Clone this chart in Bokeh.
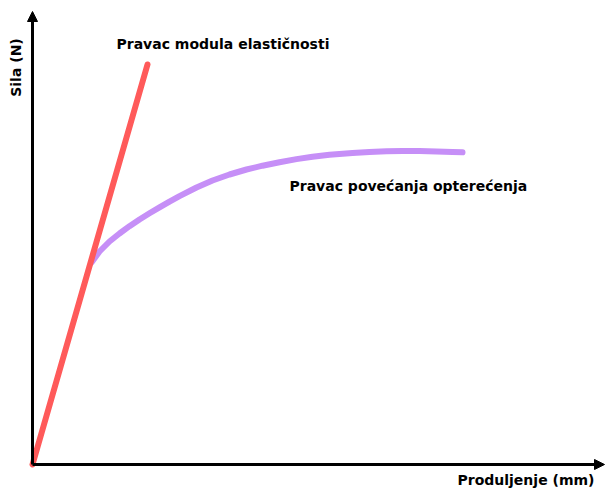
import math
from bokeh.plotting import figure
from bokeh.models import Arrow, NormalHead, Range1d
from bokeh.core.properties import value
from bokeh.embed import file_html
from bokeh.resources import INLINE

# Elastic modulus line (elongation, force)
modulus_x = [0, 115]
modulus_y = [0, 400]

# Load increase curve (elongation, force)
load_x = [59, 67, 77, 87, 97, 107, 117, 127, 137, 147, 164, 180, 197, 214,
          230, 247, 264, 280, 297, 320, 337, 354, 370, 387, 404, 420, 430]
load_y = [202, 213, 223, 231, 238.3, 245, 251.2, 257.1, 262.9, 268.4, 277, 284, 290, 295,
          298.8, 302.3, 305.4, 307.8, 309.7, 311.6, 312.6, 313.2, 313.4, 313.4, 313.1, 312.6, 312.2]

# Labels
title_modulus = "Pravac modula elastičnosti"
title_load = "Pravac povećanja opterećenja"
x_label = "Produljenje (mm)"
y_label = "Sila (N)"

W, H = 606, 489
X0, Y0 = -32, 464  # data values at the frame's left and top edges

p = figure(width=W, height=H, output_backend="svg", toolbar_location=None,
           x_axis_location=None, y_axis_location=None,
           x_range=Range1d(X0, X0 + W), y_range=Range1d(Y0 - H, Y0),
           min_border=0, min_border_left=0, min_border_right=0,
           min_border_top=0, min_border_bottom=0)
p.outline_line_color = None
p.grid.visible = False
p.background_fill_color = "white"

# Axes with arrows
p.add_layout(Arrow(end=NormalHead(size=10, fill_color="black", line_color="black", line_width=1),
                   x_start=0, y_start=0, x_end=572, y_end=0, line_width=3, line_color="black"))
p.add_layout(Arrow(end=NormalHead(size=10, fill_color="black", line_color="black", line_width=1),
                   x_start=0, y_start=0, x_end=0, y_end=453, line_width=3, line_color="black"))

p.line(load_x, load_y, line_color="#c68ff7", line_width=6, line_cap="round", line_join="round")
p.line(modulus_x, modulus_y, line_color="#ff5a5a", line_width=6, line_cap="round")

font = value("DejaVu Sans")
p.text(x=[84], y=[421], text=[title_modulus], text_font=font, text_font_style="bold",
       text_font_size="14px", text_baseline="middle", text_align="left", text_color="black")
p.text(x=[257], y=[279], text=[title_load], text_font=font, text_font_style="bold",
       text_font_size="14px", text_baseline="middle", text_align="left", text_color="black")
p.text(x=[425], y=[-15], text=[x_label], text_font=font, text_font_style="bold",
       text_font_size="14px", text_baseline="middle", text_align="left", text_color="black")
p.text(x=[-17], y=[397], text=[y_label], text_font=font, text_font_style="bold",
       text_font_size="14px", text_baseline="middle", text_align="center", text_color="black",
       angle=math.pi / 2)

open("out.html", "w").write(file_html(p, INLINE))
